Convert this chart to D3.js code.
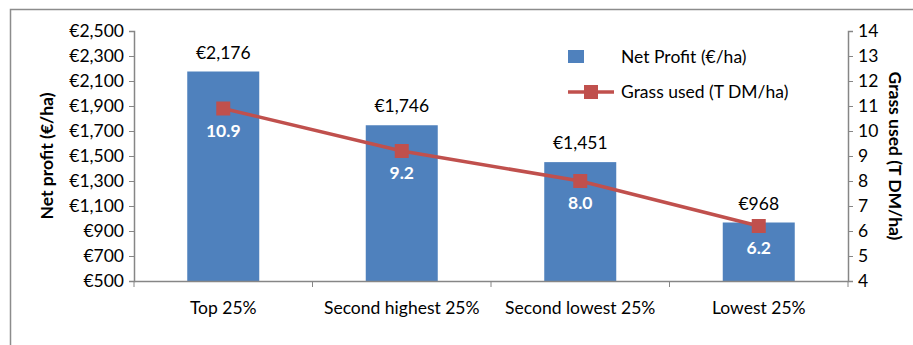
<!DOCTYPE html>
<html>
<head>
<meta charset="utf-8">
<script src="https://cdn.jsdelivr.net/npm/d3@7"></script>
<style>
  body { margin: 0; background: #fff; }
  text { font-family: Lato, "Open Sans", sans-serif; }
</style>
</head>
<body>
<div class="chart_area"></div>
<script>
var categories = ["Top 25%", "Second highest 25%", "Second lowest 25%", "Lowest 25%"];
var netProfit = [2176, 1746, 1451, 968];
var grassUsed = [10.9, 9.2, 8.0, 6.2];
var profitTicks = [500, 700, 900, 1100, 1300, 1500, 1700, 1900, 2100, 2300, 2500];
var grassTicks = [4, 5, 6, 7, 8, 9, 10, 11, 12, 13, 14];

var W = 913, H = 345;
var margin = { top: 31, right: 65, bottom: 64, left: 134 },
    width = W - margin.left - margin.right,
    height = H - margin.top - margin.bottom;
var fs = "17.5px";

var svg = d3.select(".chart_area")
    .append("svg")
    .attr("width", W)
    .attr("height", H);

// outer frame
svg.append("rect")
    .attr("x", 10.5).attr("y", 9.5)
    .attr("width", 920).attr("height", 360)
    .attr("fill", "none")
    .attr("stroke", "#8c8c8c")
    .attr("stroke-width", 1.5);

var g = svg.append("g")
    .attr("transform", "translate(" + margin.left + "," + margin.top + ")");

var xb = d3.scaleBand().domain(categories).range([0, width]);
var yL = d3.scaleLinear().domain([500, 2500]).range([height, 0]);
var yR = d3.scaleLinear().domain([4, 14]).range([height, 0]);

var axisColor = "#868686";
var fmt = function(d){ return "€" + d3.format(",")(d); };

// bars
g.selectAll("rect.bar")
    .data(netProfit)
    .enter()
    .append("rect")
    .attr("class", "bar")
    .attr("x", function(d, i){ return xb(categories[i]) + xb.bandwidth() / 2 - 36; })
    .attr("width", 72)
    .attr("y", function(d){ return yL(d); })
    .attr("height", function(d){ return height - yL(d); })
    .attr("fill", "#4F81BD");

// bar value labels
g.selectAll("text.barlab")
    .data(netProfit)
    .enter()
    .append("text")
    .attr("x", function(d, i){ return xb(categories[i]) + xb.bandwidth() / 2; })
    .attr("y", function(d){ return yL(d) - 13; })
    .attr("text-anchor", "middle")
    .style("font-size", fs)
    .attr("fill", "#000")
    .text(fmt);

// left axis
var axL = g.append("g")
    .call(d3.axisLeft(yL).tickValues(profitTicks).tickFormat(fmt).tickSize(5).tickPadding(5));
// right axis
var axR = g.append("g")
    .attr("transform", "translate(" + width + ",0)")
    .call(d3.axisRight(yR).tickValues(grassTicks).tickSize(5).tickPadding(5));
// x axis
var axX = g.append("g")
    .attr("transform", "translate(0," + height + ")")
    .call(d3.axisBottom(xb).tickSize(0).tickPadding(21));
axX.selectAll(".xtick")
    .data(d3.range(categories.length + 1))
    .enter()
    .append("line")
    .attr("class", "xtick")
    .attr("x1", function(i){ return i * xb.step(); })
    .attr("x2", function(i){ return i * xb.step(); })
    .attr("y1", 0).attr("y2", 6)
    .attr("stroke", axisColor);

[axL, axR, axX].forEach(function(a){
    a.selectAll("path.domain").attr("stroke", axisColor).attr("stroke-width", 1.5);
    a.selectAll(".tick line").attr("stroke", axisColor);
    a.selectAll(".tick text")
        .attr("fill", "#000")
        .style("font-size", fs)
        .style("font-family", "Lato, 'Open Sans', sans-serif");
});

// line
var cx = function(i){ return xb(categories[i]) + xb.bandwidth() / 2; };
g.append("path")
    .datum(grassUsed)
    .attr("fill", "none")
    .attr("stroke", "#C0504D")
    .attr("stroke-width", 3.5)
    .attr("d", d3.line().x(function(d, i){ return cx(i); }).y(function(d){ return yR(d); }));

g.selectAll("rect.marker")
    .data(grassUsed)
    .enter()
    .append("rect")
    .attr("class", "marker")
    .attr("x", function(d, i){ return cx(i) - 7; })
    .attr("y", function(d){ return yR(d) - 7; })
    .attr("width", 14).attr("height", 14)
    .attr("fill", "#C0504D");

g.selectAll("text.linelab")
    .data(grassUsed)
    .enter()
    .append("text")
    .attr("x", function(d, i){ return cx(i); })
    .attr("y", function(d){ return yR(d) + 28; })
    .attr("text-anchor", "middle")
    .attr("fill", "#fff")
    .style("font-size", fs)
    .style("font-weight", "bold")
    .text(function(d){ return d3.format(".1f")(d); });

// axis titles
svg.append("text")
    .attr("transform", "translate(53," + (margin.top + height / 2) + ") rotate(-90)")
    .attr("text-anchor", "middle")
    .style("font-size", fs)
    .style("font-weight", "bold")
    .text("Net profit (€/ha)");

svg.append("text")
    .attr("transform", "translate(889," + (margin.top + height / 2) + ") rotate(90)")
    .attr("text-anchor", "middle")
    .style("font-size", fs)
    .style("font-weight", "bold")
    .text("Grass used (T DM/ha)");

// legend
var lg = svg.append("g").attr("transform", "translate(568,0)");
lg.append("rect").attr("x", 0).attr("y", 50).attr("width", 16).attr("height", 13).attr("fill", "#4F81BD");
lg.append("text").attr("x", 53).attr("y", 63).style("font-size", fs).text("Net Profit (€/ha)");
lg.append("line").attr("x1", 0).attr("x2", 46).attr("y1", 92).attr("y2", 92)
    .attr("stroke", "#C0504D").attr("stroke-width", 3.5);
lg.append("rect").attr("x", 16).attr("y", 85).attr("width", 14).attr("height", 14).attr("fill", "#C0504D");
lg.append("text").attr("x", 53).attr("y", 98).style("font-size", fs).text("Grass used (T DM/ha)");
</script>
</body>
</html>
